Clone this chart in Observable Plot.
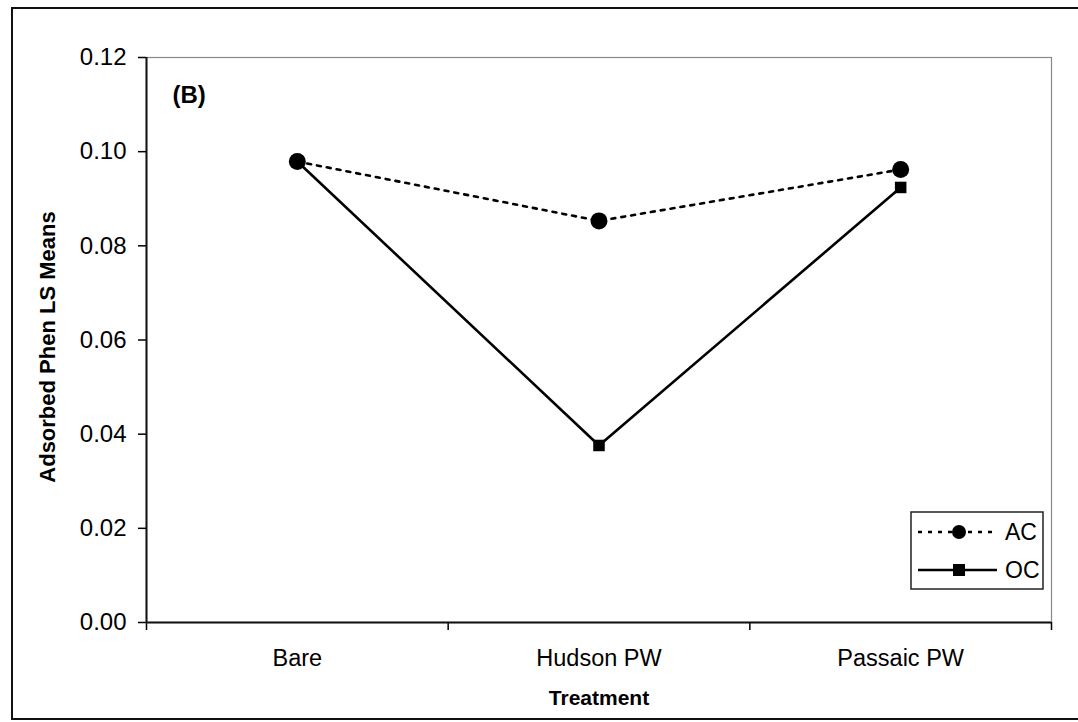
<!DOCTYPE html>
<html>
<head>
<meta charset="utf-8">
<script src="https://cdn.jsdelivr.net/npm/d3@7"></script>
<script src="https://cdn.jsdelivr.net/npm/@observablehq/plot@0.6"></script>
<style>
  html, body { margin: 0; padding: 0; background: #fff; }
  #wrap { position: relative; width: 1078px; height: 722px; overflow: hidden; font-family: "Liberation Sans", Arial, sans-serif; }
  #outer { position: absolute; left: 11px; top: 7px; width: 1100px; height: 713px; border: 2px solid #111; box-sizing: border-box; pointer-events: none; }
  #chart { position: absolute; left: 0; top: 0; }
  #legend { position: absolute; left: 0; top: 0; }
</style>
</head>
<body>
<div id="wrap">
  <div id="chart"></div>
  <div id="outer"></div>
  <div id="legend"></div>
</div>
<script>
const categories = ["Bare", "Hudson PW", "Passaic PW"];
const acValues = [0.0979, 0.0853, 0.0962];
const ocValues = [0.0979, 0.0376, 0.0924];
const yTicks = [0, 0.02, 0.04, 0.06, 0.08, 0.10, 0.12];
const seriesNames = ["AC", "OC"];
const panelLabel = "(B)";
const yTitle = "Adsorbed Phen LS Means";
const xTitle = "Treatment";

const rows = categories.map((c, i) => ({cat: c, i: i + 0.5, ac: acValues[i], oc: ocValues[i]}));
const font = "Liberation Sans, Arial, sans-serif";

const chart = Plot.plot({
  width: 1078,
  height: 722,
  marginLeft: 146,
  marginRight: 27,
  marginTop: 57,
  marginBottom: 100,
  style: {fontFamily: font, color: "#000", background: "transparent"},
  x: {domain: [0, categories.length]},
  y: {domain: [0, 0.12]},
  marks: [
    Plot.frame({stroke: "#888", strokeWidth: 1.2}),
    Plot.axisY({ticks: yTicks, tickFormat: d3.format(".2f"), tickSize: 8, tickPadding: 12, fontSize: 24, label: null, strokeWidth: 1.5}),
    Plot.axisX({ticks: d3.range(categories.length + 1), tickFormat: () => "", tickSize: 8, label: null, strokeWidth: 1.5}),
    Plot.axisX({ticks: rows.map(d => d.i), tickFormat: v => categories[Math.floor(v)], tickSize: 0, tickPadding: 27, fontSize: 23.5, label: null}),
    Plot.ruleX([0], {stroke: "#111", strokeWidth: 2}),
    Plot.ruleY([0], {stroke: "#111", strokeWidth: 2}),
    Plot.line(rows, {x: "i", y: "ac", stroke: "#000", strokeWidth: 2.6, strokeDasharray: "4,6"}),
    Plot.line(rows, {x: "i", y: "oc", stroke: "#000", strokeWidth: 2.6}),
    Plot.dot(rows, {x: "i", y: "oc", symbol: "square", r: 6.5, fill: "#000", stroke: "none"}),
    Plot.dot(rows, {x: "i", y: "ac", symbol: "circle", r: 8.5, fill: "#000", stroke: "none"}),
    Plot.text([panelLabel], {frameAnchor: "top-left", dx: 26, dy: 28, fontSize: 24, fontWeight: "bold", textAnchor: "start"}),
    Plot.text([yTitle], {frameAnchor: "left", textAnchor: "middle", dx: -99, dy: 7, rotate: -90, fontSize: 22, fontWeight: "bold"}),
    Plot.text([xTitle], {frameAnchor: "bottom", textAnchor: "middle", dy: 82, fontSize: 21, fontWeight: "bold", letterSpacing: "1.2px"})
  ]
});
document.getElementById("chart").appendChild(chart);

// Legend box (overlay)
const lg = d3.select("#legend").append("svg").attr("width", 1078).attr("height", 722)
  .style("font-family", font);
const bx = 911, by = 512, bw = 132, bh = 77;
lg.append("rect").attr("x", bx).attr("y", by).attr("width", bw).attr("height", bh)
  .attr("fill", "#fff").attr("stroke", "#222").attr("stroke-width", 1.5);
seriesNames.forEach((name, k) => {
  const yy = by + 20 + k * 38;
  lg.append("line").attr("x1", bx + 7).attr("x2", bx + 86).attr("y1", yy).attr("y2", yy)
    .attr("stroke", "#000").attr("stroke-width", 2.6)
    .attr("stroke-dasharray", k === 0 ? "4,6" : null);
  if (k === 0) lg.append("circle").attr("cx", bx + 48).attr("cy", yy).attr("r", 7).attr("fill", "#000");
  else lg.append("rect").attr("x", bx + 42).attr("y", yy - 6).attr("width", 12).attr("height", 12).attr("fill", "#000");
  lg.append("text").attr("x", bx + 94).attr("y", yy).attr("dy", "0.35em").attr("font-size", 23).text(name);
});
</script>
</body>
</html>
